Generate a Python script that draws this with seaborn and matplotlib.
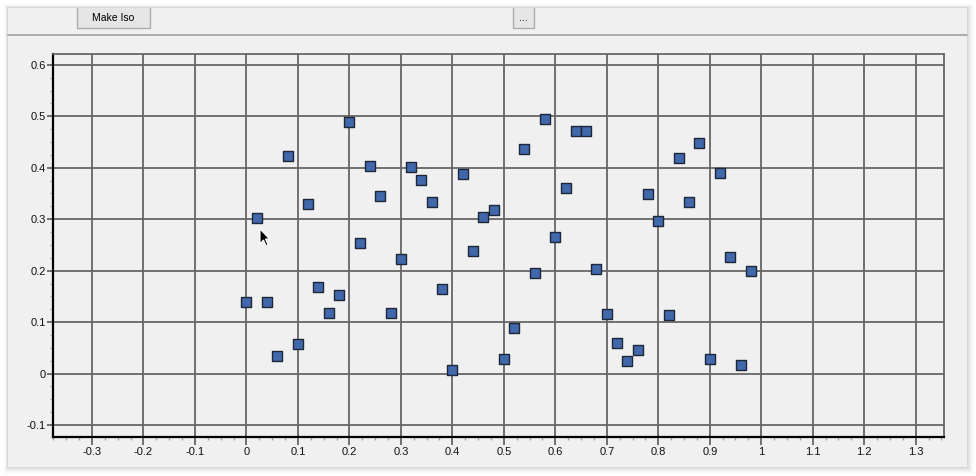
import matplotlib
matplotlib.use("Agg")
import matplotlib.pyplot as plt
import seaborn as sns
from matplotlib.patches import Rectangle, Polygon
from matplotlib.lines import Line2D
from matplotlib.ticker import MultipleLocator, FixedLocator

# data
x_vals = [0.00, 0.02, 0.04, 0.06, 0.08, 0.10, 0.12, 0.14, 0.16, 0.18,
          0.20, 0.22, 0.24, 0.26, 0.28, 0.30, 0.32, 0.34, 0.36, 0.38,
          0.40, 0.42, 0.44, 0.46, 0.48, 0.50, 0.52, 0.54, 0.56, 0.58,
          0.60, 0.62, 0.64, 0.66, 0.68, 0.70, 0.72, 0.74, 0.76, 0.78,
          0.80, 0.82, 0.84, 0.86, 0.88, 0.90, 0.92, 0.94, 0.96, 0.98]
y_vals = [0.140, 0.303, 0.140, 0.035, 0.423, 0.058, 0.330, 0.169, 0.118, 0.153,
          0.489, 0.254, 0.404, 0.346, 0.118, 0.223, 0.402, 0.377, 0.334, 0.165,
          0.006, 0.388, 0.239, 0.305, 0.318, 0.029, 0.089, 0.437, 0.196, 0.495,
          0.266, 0.361, 0.472, 0.472, 0.204, 0.115, 0.060, 0.025, 0.045, 0.348,
          0.297, 0.113, 0.419, 0.334, 0.449, 0.029, 0.390, 0.227, 0.016, 0.200]

x_ticks = [-0.3, -0.2, -0.1, 0, 0.1, 0.2, 0.3, 0.4, 0.5, 0.6, 0.7, 0.8, 0.9, 1, 1.1, 1.2, 1.3]
x_labels = ["-0.3", "-0.2", "-0.1", "0", "0.1", "0.2", "0.3", "0.4", "0.5", "0.6",
            "0.7", "0.8", "0.9", "1", "1.1", "1.2", "1.3"]
y_ticks = [-0.1, 0, 0.1, 0.2, 0.3, 0.4, 0.5, 0.6]
y_labels = ["-0.1", "0", "0.1", "0.2", "0.3", "0.4", "0.5", "0.6"]

sns.set_style("ticks")
plt.rcParams['font.family'] = ['Liberation Sans', 'DejaVu Sans']

W, H = 976, 476
fig = plt.figure(figsize=(W / 100, H / 100), dpi=100, facecolor="white")


def px(x, y):
    # pixel (top-left origin) -> figure fraction
    return (x / W, 1 - y / H)


# window chrome: shadow, body, toolbar separator, buttons
for i in range(1, 9):
    a = 0.035 * (9 - i) / 8
    x0, y0 = px(8 - i * 0.6, 8 - i * 0.6)
    x1, y1 = px(967 + i, 467 + i)
    fig.patches.append(Rectangle((x0, y1), x1 - x0, y0 - y1, transform=fig.transFigure,
                                 facecolor="black", alpha=a, edgecolor="none", zorder=-5))
x0, y0 = px(8, 8)
x1, y1 = px(967, 467)
fig.patches.append(Rectangle((x0, y1), x1 - x0, y0 - y1, transform=fig.transFigure,
                             facecolor="#f0f0f0", edgecolor="none", zorder=-4))
fig.lines.append(Line2D([px(8, 35)[0], px(967, 35)[0]], [px(8, 35)[1]] * 2,
                        transform=fig.transFigure, color="#a0a0a0", lw=1.2, zorder=-3))

for bx0, bx1, label in [(77, 150, "Make Iso"), (513, 534, "...")]:
    a0, b0 = px(bx0, 8)
    a1, b1 = px(bx1, 28)
    fig.patches.append(Rectangle((a0, b1), a1 - a0, b0 - b1, transform=fig.transFigure,
                                 facecolor="#e5e5e5", edgecolor="none", zorder=-3))
    fig.lines.append(Line2D([a0, a0, a1, a1], [b0, b1, b1, b0], transform=fig.transFigure,
                            color="#adadad", lw=1.0, zorder=-2))
    cx, cy = px((bx0 + bx1) / 2, 18)
    fig.text(cx, cy, label, ha="center", va="center", fontsize=7.5, color="black")

# plot area
ax = fig.add_axes([53 / W, (H - 437) / H, (944 - 53) / W, (437 - 54) / H])
ax.set_facecolor("#f0f0f0")
ax.set_axisbelow(True)

sns.scatterplot(x=x_vals, y=y_vals, marker="s", s=55, color="#4168ab",
                edgecolor="#1d2738", linewidth=1.0, ax=ax, zorder=3)

ax.set_xlim(-0.3757, 1.355)
ax.set_ylim(-0.1233, 0.621)

ax.xaxis.set_major_locator(FixedLocator(x_ticks))
ax.set_xticklabels(x_labels)
ax.yaxis.set_major_locator(FixedLocator(y_ticks))
ax.set_yticklabels(y_labels)
ax.xaxis.set_minor_locator(MultipleLocator(0.025))
ax.yaxis.set_minor_locator(MultipleLocator(0.025))

ax.grid(True, which="major", color="#666666", linewidth=1.3)
ax.tick_params(axis="x", which="major", length=6, width=1.3, color="#666666",
               pad=1.5, labelsize=8, labelcolor="#111111")
ax.tick_params(axis="y", which="major", length=4, width=1.3, color="#666666",
               pad=1.0, labelsize=8, labelcolor="#111111")
ax.tick_params(which="minor", length=2.5, width=1.0, color="#a8a8a8")

for side in ["left", "bottom"]:
    ax.spines[side].set_color("black")
    ax.spines[side].set_linewidth(1.6)
for side in ["top", "right"]:
    ax.spines[side].set_visible(True)
    ax.spines[side].set_color("#666666")
    ax.spines[side].set_linewidth(1.3)
ax.set_xlabel("")
ax.set_ylabel("")

# mouse pointer left in the screenshot
shape = [(0, 0), (0, 14), (3.5, 10.5), (6, 16), (8, 15), (5.5, 9.5), (9.5, 9.5)]
cursor = [px(260 + sx * 1.0, 229 + sy * 1.05) for sx, sy in shape]
fig.patches.append(Polygon(cursor, closed=True, transform=fig.transFigure,
                           facecolor="black", edgecolor="white", lw=0.8, zorder=10))

fig.savefig("out.png", dpi=100, facecolor=fig.get_facecolor())
